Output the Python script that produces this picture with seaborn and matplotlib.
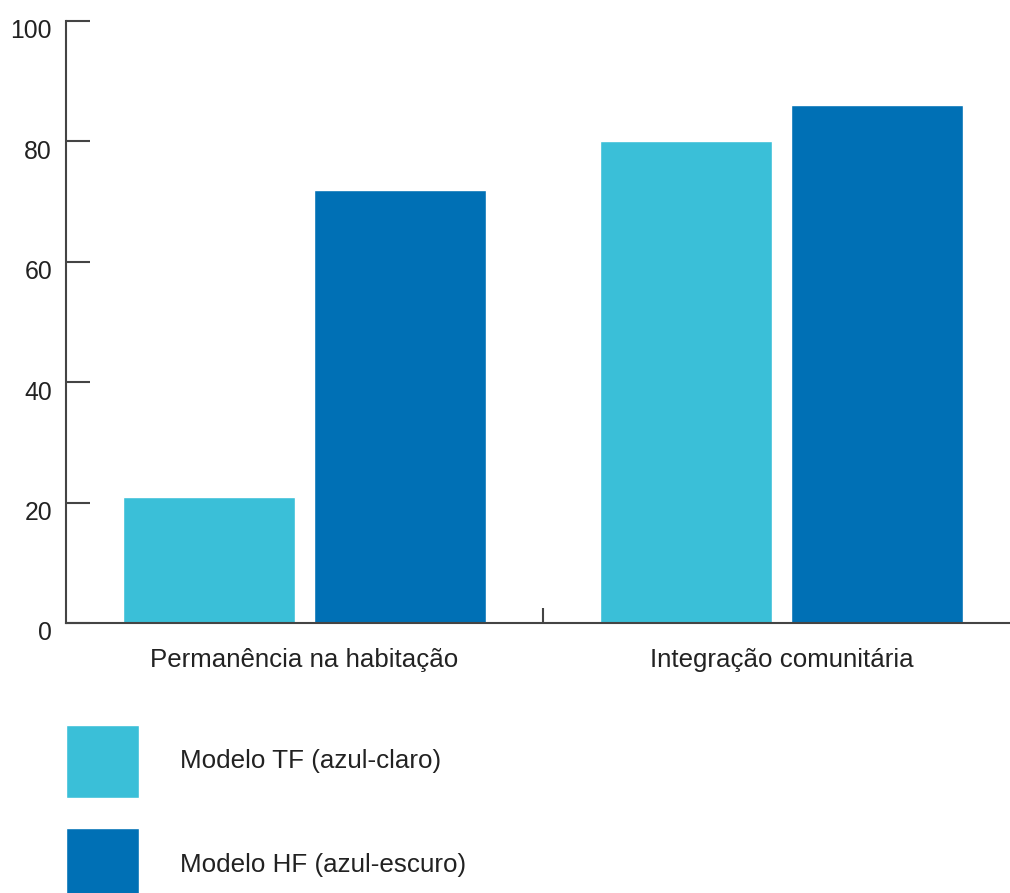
import matplotlib
matplotlib.use("Agg")
import matplotlib.pyplot as plt
from matplotlib.transforms import ScaledTranslation
from matplotlib.ticker import FixedLocator
import seaborn as sns
import pandas as pd

# Data
categorias = ["Permanência na habitação", "Integração comunitária"]
modelos = ["Modelo TF (azul-claro)", "Modelo HF (azul-escuro)"]
valores_tf = [21, 80]
valores_hf = [72, 86]
cores = ["#3ABFD8", "#0070B5"]
yticks = [0, 20, 40, 60, 80, 100]

df = pd.DataFrame({
    "categoria": categorias * 2,
    "modelo": [modelos[0]] * 2 + [modelos[1]] * 2,
    "valor": valores_tf + valores_hf,
})

sns.set_theme(style="white")
plt.rcParams["font.family"] = ["Liberation Sans", "DejaVu Sans"]
plt.rcParams["text.color"] = "#222222"

fig = plt.figure(figsize=(10.10, 8.93), dpi=100)
ax = fig.add_axes([66 / 1010, 1 - 623 / 893, (1020 - 66) / 1010, (623 - 21) / 893])

sns.barplot(data=df, x="categoria", y="valor", hue="modelo",
            order=categorias, hue_order=modelos, palette=cores,
            width=0.8, gap=0.1, saturation=1, errorbar=None, ax=ax)

ax.set_xlim(-0.5, 1.5)
ax.set_ylim(0, 100)
ax.set_yticks(yticks)
ax.set_xlabel("")
ax.set_ylabel("")

for side in ["top", "right"]:
    ax.spines[side].set_visible(False)
for side in ["left", "bottom"]:
    ax.spines[side].set_color("#444444")
    ax.spines[side].set_linewidth(1.5)

ax.tick_params(axis="y", direction="in", length=17, width=1.5, color="#444444",
               labelsize=17.8, labelcolor="#222222", pad=10, left=True)
ax.tick_params(axis="x", which="major", length=0, labelsize=18.6,
               labelcolor="#222222", pad=18)
ax.xaxis.set_minor_locator(FixedLocator([0.5]))
ax.tick_params(axis="x", which="minor", direction="in", length=11, width=1.5,
               color="#444444", bottom=True)

for lab in ax.get_yticklabels():
    lab.set_transform(lab.get_transform() + ScaledTranslation(0, -8 / 100, fig.dpi_scale_trans))

# Large square swatches: rectangle height = fontsize * (0.65 * handleheight + 0.245)
sns.move_legend(ax, "upper left", bbox_to_anchor=(66 / 1010, 1 - 725 / 893),
                bbox_transform=fig.transFigure, frameon=False, title=None,
                fontsize=18.7, handlelength=2.8, handleheight=3.93,
                handletextpad=1.58, labelspacing=1.18, borderpad=0,
                borderaxespad=0)

fig.savefig("out.png", dpi=100)
